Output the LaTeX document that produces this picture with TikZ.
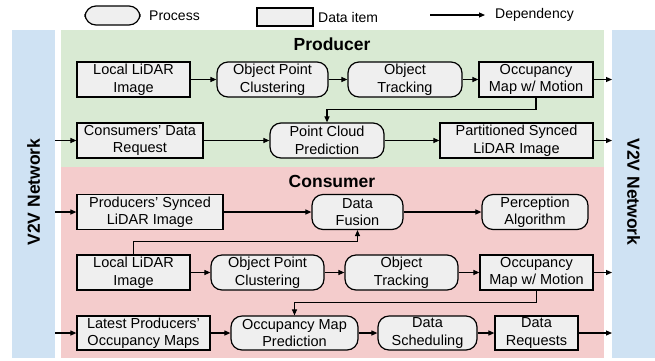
\documentclass[tikz,border=0pt]{standalone}
\usepackage{fontspec}
\setmainfont{Liberation Sans}
\usetikzlibrary{arrows.meta}
\definecolor{netblue}{HTML}{CFE2F3}
\definecolor{prodgreen}{HTML}{D9EAD3}
\definecolor{conspink}{HTML}{F4CCCC}
\definecolor{boxgray}{HTML}{EFEFEF}
\tikzset{
  base/.style={draw=black, fill=boxgray, line width=1.2pt, align=center, inner sep=0pt,
    font=\fontsize{14.5}{17.5}\selectfont},
  proc/.style={base, rounded corners=11pt},
  datum/.style={base},
  arr/.style={line width=1.1pt, -{Triangle[length=6pt,width=5pt]}},
  title/.style={font=\fontsize{17.5}{20}\selectfont\bfseries},
  lbl/.style={font=\fontsize{14}{16}\selectfont, anchor=west, inner sep=0pt}
}
\begin{document}
\begin{tikzpicture}[x=1pt, y=-1pt]
\useasboundingbox (0,0) rectangle (655,360);

% background bands
\fill[netblue] (12,30) rectangle (55,358);
\fill[netblue] (612,30) rectangle (655,358);
\fill[prodgreen] (61,30) rectangle (604,167);
\fill[conspink] (61,167) rectangle (604,358);

% legend
\node[proc, minimum width=55pt, minimum height=19pt] (lgproc) at (112.5,15.5) {};
\node[lbl] (lgproct) at (149,16) {Process};
\node[datum, minimum width=56pt, minimum height=18pt] (lgdata) at (285,17) {};
\node[lbl] (lgdatat) at (318,17) {Data item};
\coordinate (lga) at (430,15);
\coordinate (lgb) at (485,15);
\draw[arr] (lga) -- (lgb);
\node[lbl] (lgdept) at (495,15) {Dependency};

% titles
\node[title] (tprod) at (332,44) {Producer};
\node[title] (tcons) at (332,181) {Consumer};
\node[title, rotate=90] (netl) at (33.5,192) {V2V Network};
\node[title, rotate=-90] (netr) at (633.5,192) {V2V Network};

% producer
\node[datum, minimum width=113pt, minimum height=35pt] (pl) at (133.5,79.5) {Local LiDAR\\Image};
\node[proc, minimum width=111pt, minimum height=35pt] (pc) at (272.5,79.5) {Object Point\\Clustering};
\node[proc, minimum width=114pt, minimum height=35pt] (pt) at (405,79.5) {Object\\Tracking};
\node[datum, minimum width=114pt, minimum height=35pt] (pm) at (536,79.5) {Occupancy\\Map w/ Motion};
\node[datum, minimum width=126pt, minimum height=35pt] (pr) at (140,140.5) {Consumers’ Data\\Request};
\node[proc, minimum width=114pt, minimum height=35pt] (pp) at (327,140.5) {Point Cloud\\Prediction};
\node[datum, minimum width=153pt, minimum height=35pt] (ps) at (516.5,140.5) {Partitioned Synced\\LiDAR Image};

\coordinate (pmout) at (612,79.5);
\coordinate (prin) at (55,140.5);
\coordinate (psout) at (612,140.5);

\draw[arr] (pl) -- (pc);
\draw[arr] (pc) -- (pt);
\draw[arr] (pt) -- (pm);
\draw[arr] (pm) -- (pmout);
\draw[arr] (pm.south) -- ++(0,12) -| (pp.north);
\draw[arr] (prin) -- (pr);
\draw[arr] (pr) -- (pp);
\draw[arr] (pp) -- (ps);
\draw[arr] (ps) -- (psout);

% consumer
\node[datum, minimum width=146pt, minimum height=35pt] (cs) at (150,212) {Producers’ Synced\\LiDAR Image};
\node[proc, minimum width=91pt, minimum height=35pt] (cf) at (357.5,212) {Data\\Fusion};
\node[proc, minimum width=106pt, minimum height=35pt] (ca) at (535,212) {Perception\\Algorithm};
\node[datum, minimum width=113pt, minimum height=35pt] (cl) at (133.5,272.5) {Local LiDAR\\Image};
\node[proc, minimum width=113pt, minimum height=35pt] (cc) at (267.5,272.5) {Object Point\\Clustering};
\node[proc, minimum width=113pt, minimum height=35pt] (ct) at (401.5,272.5) {Object\\Tracking};
\node[datum, minimum width=113pt, minimum height=35pt] (cm) at (536.5,272.5) {Occupancy\\Map w/ Motion};
\node[datum, minimum width=133pt, minimum height=34pt] (co) at (143.5,333) {Latest Producers’\\Occupancy Maps};
\node[proc, minimum width=127pt, minimum height=34pt] (cp) at (294.5,333) {Occupancy Map\\Prediction};
\node[proc, minimum width=99pt, minimum height=34pt] (cd) at (427.5,333) {Data\\Scheduling};
\node[datum, minimum width=83pt, minimum height=34pt] (cr) at (536.5,333) {Data\\Requests};

\coordinate (csin) at (55,212);
\coordinate (cmout) at (612,272.5);
\coordinate (coin) at (55,333);
\coordinate (crout) at (612,333);

\draw[arr] (csin) -- (cs);
\draw[arr] (cs) -- (cf);
\draw[arr] (cf) -- (ca);
\draw[arr] (cl.north) -- ++(0,-13) -| (cf.south);
\draw[arr] (cl) -- (cc);
\draw[arr] (cc) -- (ct);
\draw[arr] (ct) -- (cm);
\draw[arr] (cm) -- (cmout);
\draw[arr] (cm.south) -- ++(0,12) -| (cp.north);
\draw[arr] (coin) -- (co);
\draw[arr] (co) -- (cp);
\draw[arr] (cp) -- (cd);
\draw[arr] (cd) -- (cr);
\draw[arr] (cr) -- (crout);
\end{tikzpicture}
\end{document}
